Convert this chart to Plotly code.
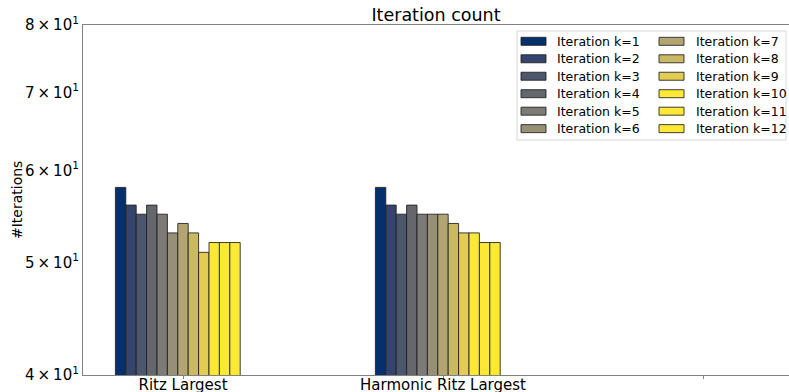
import plotly.graph_objects as go

# Solver runs compared
methods = ["Ritz Largest", "Harmonic Ritz Largest", ""]

# Iteration counts per outer iteration k, one list per method
ritz_largest = [58, 56, 55, 56, 55, 53, 54, 53, 51, 52, 52, 52]
harmonic_ritz_largest = [58, 56, 55, 56, 55, 55, 55, 54, 53, 53, 52, 52]

series_names = [f"Iteration k={k}" for k in range(1, 13)]

# cividis-like ramp, one colour per k
colors = [
    "#06306c", "#34446c", "#4c566c", "#66676d", "#7d7b78", "#979077",
    "#b2a571", "#cab963", "#e2cd52", "#fde835", "#fde835", "#fde835",
]

y_ticks = [40, 50, 60, 70, 80]
y_tick_text = [f"{v // 10}\u2009×\u200910<sup>1</sup>" for v in y_ticks]

W, H = 789, 392
L, R, T, B = 83, 0, 25, 17
bar_width = 0.04
n = len(series_names)
edge = "rgba(30,30,30,0.85)"
font_family = "DejaVu Sans, sans-serif"


def fx(px):
    """Pixel column -> paper x (plot-area relative)."""
    return (px - L) / (W - L - R)


def fy(py):
    """Pixel row -> paper y (plot-area relative)."""
    return (H - B - py) / (H - T - B)


fig = go.Figure()
for i, name in enumerate(series_names):
    offset = (i - n // 2) * bar_width
    fig.add_trace(go.Bar(
        x=[0 + offset, 1 + offset],
        y=[ritz_largest[i], harmonic_ritz_largest[i]],
        width=bar_width,
        name=name,
        showlegend=False,
        marker=dict(color=colors[i], line=dict(color=edge, width=1)),
    ))

# Two-column legend box drawn as shapes + labels
shapes = [dict(
    type="rect", xref="paper", yref="paper",
    x0=fx(517), x1=fx(786), y0=fy(140), y1=fy(31),
    line=dict(color="#d6d6d6", width=1), fillcolor="white", layer="below",
)]
annotations = []
row_step = 17.47
for i, name in enumerate(series_names):
    col, row = divmod(i, 6)
    cy = 41.3 + row * row_step
    px0 = 521 if col == 0 else 659
    tx = 555 if col == 0 else 693.5
    shapes.append(dict(
        type="rect", xref="paper", yref="paper",
        x0=fx(px0), x1=fx(px0 + 25), y0=fy(cy + 4), y1=fy(cy - 4),
        line=dict(color=edge, width=1), fillcolor=colors[i],
    ))
    annotations.append(dict(
        text=name, xref="paper", yref="paper", x=fx(tx), y=fy(cy),
        xanchor="left", yanchor="middle", showarrow=False,
        font=dict(size=12.5, family=font_family, color="black"),
    ))

annotations.append(dict(
    text="#Iterations", xref="paper", yref="paper", x=0, y=0.5,
    xshift=-(L - 17), xanchor="center", yanchor="middle", textangle=-90,
    showarrow=False, font=dict(size=14, family=font_family, color="black"),
))

fig.update_layout(
    width=W,
    height=H,
    margin=dict(l=L, r=R, t=T, b=B),
    paper_bgcolor="white",
    plot_bgcolor="white",
    barmode="overlay",
    showlegend=False,
    font=dict(family=font_family, color="black"),
    title=dict(text="Iteration count", x=(L + W) / 2 / W, xanchor="center",
               y=1 - 15 / H, yanchor="middle", font=dict(size=17.5, family=font_family)),
    xaxis=dict(
        range=[-100 / 260, 606 / 260],
        tickvals=[0, 1, 2],
        ticktext=methods,
        showline=True, linecolor="#808080", linewidth=1.2, mirror=True,
        ticks="outside", ticklen=3, tickcolor="#808080",
        ticklabelstandoff=-7,
        showgrid=False, zeroline=False, automargin=False,
        tickfont=dict(size=15, family=font_family),
    ),
    yaxis=dict(
        type="log",
        range=[1.6020600, 1.9030900],
        tickvals=y_ticks,
        ticktext=y_tick_text,
        showline=True, linecolor="#808080", linewidth=1.2,
        ticks="", automargin=False,
        showgrid=False, zeroline=False,
        tickfont=dict(size=15, family=font_family),
    ),
    shapes=shapes,
    annotations=annotations,
)

fig.write_html("out.html")
